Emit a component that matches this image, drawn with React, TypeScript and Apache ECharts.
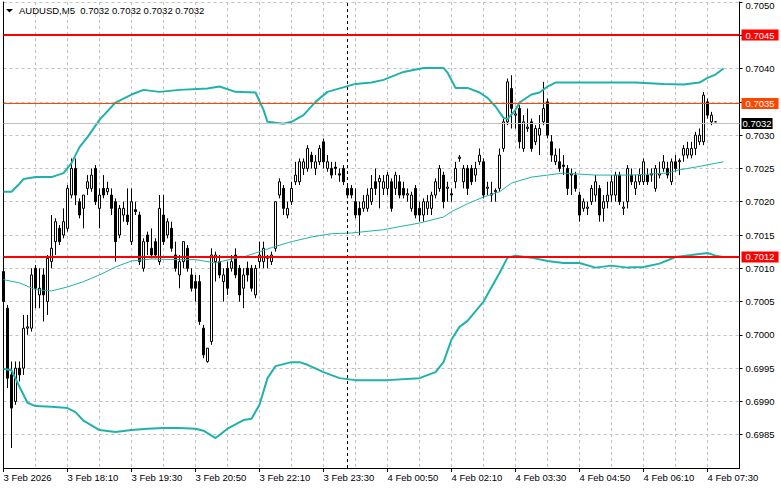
import React, { useEffect, useRef } from "react";
import * as echarts from "echarts";

const symbolName = "AUDUSD,M5";
const BAR_SLOTS = 185;
const START_MIN = 16 * 60 + 50;

const tickLabels = [
  "3 Feb 2026", "3 Feb 18:10", "3 Feb 19:30", "3 Feb 20:50", "3 Feb 22:10", "3 Feb 23:30",
  "4 Feb 00:50", "4 Feb 02:10", "4 Feb 03:30", "4 Feb 04:50", "4 Feb 06:10", "4 Feb 07:30",
];

const opens = [
  0.70095, 0.7004, 0.6994, 0.699, 0.6995, 0.6995, 0.7001, 0.7001, 0.701, 0.7006,
  0.7009, 0.7005, 0.7011, 0.7014, 0.7016, 0.7015, 0.7016, 0.7021, 0.7025, 0.702,
  0.7019, 0.7022, 0.7022, 0.7025, 0.7019, 0.7022, 0.70215, 0.7021, 0.702, 0.7015,
  0.7018, 0.7018, 0.7014, 0.70188, 0.7018, 0.701, 0.7015, 0.7013, 0.7014, 0.7011,
  0.7018, 0.7015, 0.7016, 0.7012, 0.7009, 0.7011, 0.7013, 0.7009, 0.7008, 0.7008,
  0.7001, 0.6996, 0.6999, 0.7011, 0.7011, 0.7008, 0.701, 0.701, 0.7012, 0.701,
  0.7007, 0.701, 0.701, 0.7006, 0.7011, 0.7011, 0.70115, 0.7011, 0.7013, 0.7021,
  0.7022, 0.7018, 0.702, 0.7023, 0.7023, 0.7025, 0.7025, 0.7027, 0.7025, 0.7026,
  0.7029, 0.7025, 0.7025, 0.70252, 0.70242, 0.7025, 0.7022, 0.7022, 0.702, 0.7019,
  0.7019, 0.7019, 0.702, 0.7023, 0.7023, 0.7022, 0.7022, 0.7023, 0.7022, 0.7023,
  0.7022, 0.7021, 0.7019, 0.7022, 0.7019, 0.7018, 0.7019, 0.7019, 0.7021, 0.7022,
  0.7024, 0.7022, 0.70212, 0.7023, 0.70265, 0.7023, 0.7025, 0.7025, 0.7024, 0.7026,
  0.7026, 0.7022, 0.7021, 0.70215, 0.7022, 0.7028, 0.7032, 0.7037, 0.7033, 0.7034,
  0.7028, 0.7031, 0.7032, 0.7029, 0.703, 0.7032, 0.7035, 0.7029, 0.7026, 0.7026,
  0.70255, 0.7025, 0.7024, 0.7024, 0.7021, 0.7019, 0.7019, 0.702, 0.7021, 0.7022,
  0.7019, 0.702, 0.7021, 0.7021, 0.7024, 0.7019, 0.702, 0.7024, 0.7022, 0.7023,
  0.7023, 0.7024, 0.7024, 0.7022, 0.7024, 0.7025, 0.7025, 0.7023, 0.7026, 0.7026,
  0.7027, 0.7027, 0.7027, 0.7028, 0.7029, 0.7029, 0.7035, 0.7032, 0.7032,
];

const highs = [
  0.70105, 0.70045, 0.6996, 0.6996, 0.6996, 0.7003, 0.7003, 0.701, 0.70105, 0.701,
  0.701, 0.7012, 0.7018, 0.70175, 0.70165, 0.7019, 0.70225, 0.70265, 0.70265, 0.70205,
  0.7021, 0.7024, 0.7025, 0.70255, 0.7022, 0.7024, 0.7023, 0.7022, 0.70205, 0.70195,
  0.702, 0.7022, 0.7022, 0.702, 0.70185, 0.70145, 0.70155, 0.7016, 0.70145, 0.7021,
  0.7021, 0.70175, 0.7017, 0.7014, 0.7012, 0.7014, 0.70135, 0.701, 0.7009, 0.7009,
  0.70015, 0.6998, 0.7013, 0.70125, 0.7012, 0.701, 0.7011, 0.7012, 0.7013, 0.70105,
  0.701, 0.7011, 0.70105, 0.70105, 0.7014, 0.7014, 0.7012, 0.70125, 0.702, 0.70235,
  0.70225, 0.702, 0.7023, 0.7026, 0.70265, 0.70265, 0.70285, 0.70275, 0.7027, 0.70285,
  0.70295, 0.7027, 0.7026, 0.7026, 0.7025, 0.70255, 0.70225, 0.70225, 0.7022, 0.702,
  0.7021, 0.7022, 0.7024, 0.7025, 0.7024, 0.7024, 0.70245, 0.70235, 0.70245, 0.7024,
  0.7023, 0.7022, 0.70215, 0.70225, 0.702, 0.70205, 0.7021, 0.70215, 0.70235, 0.70255,
  0.70245, 0.7023, 0.7022, 0.7026, 0.7027, 0.70255, 0.70255, 0.70255, 0.7026, 0.7028,
  0.70265, 0.7023, 0.7023, 0.7022, 0.7028, 0.70325, 0.70385, 0.7039, 0.7034, 0.70345,
  0.7033, 0.7034, 0.70325, 0.70315, 0.7033, 0.7038, 0.70355, 0.703, 0.7028, 0.7028,
  0.7027, 0.70255, 0.7025, 0.70245, 0.70215, 0.70205, 0.702, 0.70225, 0.7024, 0.70225,
  0.7021, 0.7023, 0.7024, 0.70245, 0.70245, 0.702, 0.70255, 0.7025, 0.7024, 0.7025,
  0.70265, 0.7025, 0.7025, 0.70255, 0.7026, 0.7027, 0.7026, 0.70265, 0.7027, 0.70265,
  0.70285, 0.7029, 0.7029, 0.70305, 0.7031, 0.70365, 0.70355, 0.70335, 0.7032,
];

const lows = [
  0.70045, 0.6992, 0.6983, 0.69895, 0.6993, 0.6994, 0.7, 0.70005, 0.7004, 0.7004,
  0.7002, 0.7003, 0.701, 0.7012, 0.70135, 0.70145, 0.70155, 0.70205, 0.70195, 0.70175,
  0.7016, 0.7021, 0.70215, 0.70195, 0.7016, 0.70205, 0.7021, 0.7018, 0.7011, 0.70145,
  0.7017, 0.70165, 0.70135, 0.7018, 0.70105, 0.70095, 0.7012, 0.70115, 0.70115, 0.70105,
  0.70135, 0.70145, 0.70125, 0.70095, 0.7007, 0.701, 0.70095, 0.70065, 0.7005, 0.70015,
  0.69965, 0.69958, 0.69985, 0.7008, 0.70085, 0.7005, 0.7006, 0.70095, 0.70085, 0.7005,
  0.7004, 0.7008, 0.70065, 0.70055, 0.701, 0.701, 0.701, 0.70105, 0.70125, 0.70205,
  0.7018, 0.70175, 0.70195, 0.70225, 0.70225, 0.7024, 0.70245, 0.7025, 0.7024, 0.70255,
  0.7025, 0.70245, 0.70235, 0.7024, 0.7023, 0.70225, 0.70205, 0.70205, 0.70175, 0.7015,
  0.70185, 0.70185, 0.70195, 0.7021, 0.7019, 0.7021, 0.7021, 0.70185, 0.7021, 0.70205,
  0.70205, 0.702, 0.70185, 0.70175, 0.7017, 0.7017, 0.7018, 0.7018, 0.70205, 0.70215,
  0.7019, 0.702, 0.702, 0.7022, 0.7026, 0.7022, 0.7021, 0.70225, 0.7023, 0.70255,
  0.70205, 0.7021, 0.702, 0.702, 0.70215, 0.70275, 0.70315, 0.7031, 0.7031, 0.7028,
  0.70275, 0.70305, 0.70275, 0.70285, 0.7027, 0.70315, 0.70295, 0.7026, 0.70255, 0.70245,
  0.7024, 0.7021, 0.7021, 0.70215, 0.7017, 0.70185, 0.7018, 0.70195, 0.702, 0.7017,
  0.7017, 0.7019, 0.702, 0.702, 0.70195, 0.7018, 0.7019, 0.70225, 0.7021, 0.70225,
  0.70225, 0.70225, 0.7023, 0.70215, 0.70235, 0.70245, 0.70235, 0.70225, 0.70245, 0.7024,
  0.7026, 0.70265, 0.70265, 0.7027, 0.70285, 0.70285, 0.70325, 0.70315, 0.7032,
];

const closes = [
  0.7005, 0.69935, 0.6989, 0.6995, 0.6994, 0.7001, 0.70012, 0.7009, 0.7007, 0.7007,
  0.7006, 0.70115, 0.7013, 0.7017, 0.7014, 0.7017, 0.7022, 0.7025, 0.7021, 0.7018,
  0.7021, 0.7023, 0.7024, 0.702, 0.7021, 0.7021, 0.7022, 0.7019, 0.7014, 0.7019,
  0.7019, 0.7017, 0.702, 0.70185, 0.7011, 0.7014, 0.7014, 0.7012, 0.7012, 0.7019,
  0.7014, 0.7017, 0.7013, 0.701, 0.7011, 0.7014, 0.701, 0.7007, 0.7007, 0.7002,
  0.6997, 0.6998, 0.7012, 0.7012, 0.7009, 0.7009, 0.7007, 0.7011, 0.7009, 0.7006,
  0.7009, 0.7009, 0.7007, 0.701, 0.7012, 0.7013, 0.70118, 0.7012, 0.702, 0.7023,
  0.7019, 0.7019, 0.7022, 0.7024, 0.7026, 0.7026, 0.7028, 0.7026, 0.7026, 0.7028,
  0.7026, 0.7026, 0.7024, 0.7025, 0.7024, 0.7023, 0.7021, 0.7021, 0.7018, 0.7018,
  0.702, 0.7021, 0.7022, 0.7022, 0.70235, 0.7023, 0.7024, 0.7019, 0.7024, 0.7021,
  0.7021, 0.70212, 0.7021, 0.7018, 0.7018, 0.702, 0.702, 0.7021, 0.7023, 0.7025,
  0.702, 0.70222, 0.7021, 0.7025, 0.70267, 0.7025, 0.7022, 0.7023, 0.7025, 0.7027,
  0.7021, 0.70222, 0.70212, 0.70217, 0.7027, 0.7032, 0.7038, 0.7034, 0.70332, 0.7029,
  0.7032, 0.70312, 0.7028, 0.7031, 0.7031, 0.7034, 0.703, 0.7027, 0.7027, 0.7025,
  0.70253, 0.7022, 0.70242, 0.7022, 0.7018, 0.702, 0.70192, 0.7022, 0.7023, 0.7018,
  0.702, 0.7021, 0.7023, 0.7024, 0.702, 0.70192, 0.7025, 0.7023, 0.7023, 0.7024,
  0.7026, 0.7023, 0.70242, 0.7025, 0.70242, 0.7026, 0.7024, 0.7026, 0.7025, 0.70262,
  0.7028, 0.7028, 0.7028, 0.703, 0.703, 0.7036, 0.7033, 0.7033, 0.7032,
];

// Bollinger bands: [bar index, price]
const upperBand = [
  [0, 0.70215], [2, 0.70215], [4, 0.70227], [5, 0.70234], [8, 0.70237], [12, 0.70237],
  [15, 0.70243], [17, 0.70258], [19, 0.70282], [21, 0.70297], [24, 0.70323], [28, 0.70349],
  [32, 0.70361], [35, 0.70368], [39, 0.70365], [44, 0.70368], [51, 0.7037], [54, 0.70373],
  [58, 0.70365], [63, 0.70364], [65, 0.70338], [66, 0.7032], [70, 0.70317], [72, 0.7032],
  [75, 0.7033], [78, 0.7035], [81, 0.70365], [88, 0.70377], [92, 0.70379], [95, 0.70383],
  [100, 0.70395], [105, 0.70401], [110, 0.70401], [111, 0.70394], [113, 0.70371], [116, 0.70371],
  [119, 0.70364], [121, 0.70356], [123, 0.70343], [125, 0.70326], [126, 0.70324], [128, 0.70338],
  [129, 0.70349], [132, 0.70361], [134, 0.70364], [136, 0.70373], [138, 0.70379], [150, 0.70379],
  [158, 0.70379], [165, 0.70377], [170, 0.70376], [174, 0.70379], [176, 0.70386], [178, 0.70391],
  [180, 0.704],
];

const middleBand = [
  [0, 0.70083], [4, 0.70078], [8, 0.70068], [12, 0.70066], [16, 0.70072], [20, 0.7008],
  [24, 0.7009], [28, 0.70102], [32, 0.70111], [37, 0.70114], [44, 0.70113], [48, 0.70113],
  [53, 0.70108], [57, 0.70114], [60, 0.70117], [63, 0.70123], [67, 0.70131], [72, 0.7014],
  [77, 0.70147], [82, 0.70152], [87, 0.70153], [95, 0.70158], [104, 0.70168], [110, 0.70177],
  [112, 0.70185], [116, 0.70197], [120, 0.70207], [124, 0.70215], [127, 0.70228], [132, 0.70237],
  [140, 0.70243], [148, 0.7024], [157, 0.7024], [166, 0.70243], [169, 0.70248], [173, 0.70252],
  [180, 0.7026],
];

const lowerBand = [
  [0, 0.69949], [2, 0.69947], [4, 0.69922], [6, 0.69898], [8, 0.69893], [12, 0.69892],
  [16, 0.6989], [18, 0.69884], [20, 0.69871], [24, 0.69857], [28, 0.69854], [32, 0.69857],
  [36, 0.69859], [40, 0.6986], [44, 0.6986], [48, 0.69859], [50, 0.69856], [53, 0.69845],
  [56, 0.69859], [60, 0.69872], [62, 0.69874], [64, 0.69895], [66, 0.69935], [68, 0.69953],
  [72, 0.69959], [74, 0.69959], [76, 0.69955], [80, 0.69944], [84, 0.69935], [88, 0.69932],
  [96, 0.69932], [104, 0.69935], [108, 0.69944], [110, 0.69959], [112, 0.69993], [114, 0.70012],
  [116, 0.70021], [120, 0.7005], [124, 0.70093], [126, 0.70116], [128, 0.70119], [132, 0.70116],
  [136, 0.70111], [140, 0.70108], [144, 0.70108], [148, 0.70101], [152, 0.70104], [156, 0.70101],
  [160, 0.70102], [164, 0.70107], [168, 0.70117], [172, 0.7012], [176, 0.70123], [178, 0.70119],
  [180, 0.70117],
];

// horizontal level lines (price values)
const upperLevel = 0.704504;
const orangeLevel = 0.703475;
const lastPrice = 0.703175;
const lowerLevel = 0.70117;
const separatorBar = 86;

const FONT = '"Liberation Sans", Arial, sans-serif';
const FS = 9.5;

function pad(n: number) {
  return n < 10 ? "0" + n : "" + n;
}
const categories = Array.from({ length: BAR_SLOTS }, (_, i) => {
  const m = START_MIN + 5 * i;
  const day = 3 + Math.floor(m / 1440);
  const mm = m % 1440;
  return `${day} Feb ${pad(Math.floor(mm / 60))}:${pad(mm % 60)}`;
});

export default function App() {
  const ref = useRef<HTMLDivElement>(null);
  useEffect(() => {
    if (!ref.current) return;
    const chart = echarts.init(ref.current, undefined, { renderer: "svg" });
    const n = closes.length;
    const titleText = `${symbolName}  ${opens[n - 1].toFixed(4)} ${highs[n - 1].toFixed(4)} ${lows[n - 1].toFixed(4)} ${closes[n - 1].toFixed(4)}`;
    const candles = opens.map((o, i) => [o, closes[i], lows[i], highs[i]]);
    const levelLabel = (bg: string, padH: number) => ({
      show: true,
      position: "end",
      distance: 2,
      formatter: (p: any) => Number(p.value).toFixed(4),
      color: "#ffffff",
      backgroundColor: bg,
      padding: [1, padH, 0, padH],
      fontSize: FS,
      lineHeight: 10,
      fontFamily: FONT,
    });
    const yMin = 0.698;
    const yMax = 0.705;
    const option: any = {
      animation: false,
      backgroundColor: "#ffffff",
      textStyle: { fontFamily: FONT },
      grid: { left: 3.5, top: 2, width: 736, height: 466, show: false },
      xAxis: {
        type: "category",
        data: categories,
        boundaryGap: false,
        axisLine: { show: true, onZero: false, lineStyle: { color: "#000000", width: 1 } },
        axisTick: { show: true, interval: 15, length: 4, lineStyle: { color: "#000000" } },
        axisLabel: {
          interval: 15,
          align: "left",
          margin: 4,
          color: "#000000",
          fontSize: FS,
          fontFamily: FONT,
          formatter: (_v: string, idx: number) => tickLabels[idx / 16] ?? "",
        },
        splitLine: { show: true, interval: 7, lineStyle: { color: "#c0c0c0", type: [3, 3], width: 1 } },
      },
      yAxis: [
        {
          type: "value",
          position: "right",
          min: yMin,
          max: yMax,
          interval: 0.0005,
          axisLine: { show: true, lineStyle: { color: "#000000" } },
          axisTick: { show: true, length: 3, lineStyle: { color: "#000000" } },
          axisLabel: {
            showMinLabel: false,
            margin: 6,
            color: "#000000",
            fontSize: FS,
            fontFamily: FONT,
            formatter: (v: number) => (Math.abs(v - yMax) < 1e-9 ? "{top|" + v.toFixed(4) + "}" : v.toFixed(4)),
            rich: { top: { padding: [6, 0, 0, 0], fontSize: FS, fontFamily: FONT, color: "#000000" } },
          },
          splitLine: { show: true, lineStyle: { color: "#c0c0c0", type: [3, 3], width: 1 } },
        },
        {
          type: "value",
          position: "left",
          min: yMin,
          max: yMax,
          axisLine: { show: true, lineStyle: { color: "#000000" } },
          axisTick: { show: false },
          axisLabel: { show: false },
          splitLine: { show: false },
        },
      ],
      graphic: [
        { type: "polygon", shape: { points: [[6, 9], [13, 9], [9.5, 12.5]] }, style: { fill: "#000000" } },
        {
          type: "text",
          left: 19,
          top: 5,
          style: { text: titleText, fill: "#000000", fontSize: FS, fontFamily: FONT },
        },
      ],
      series: [
        {
          type: "candlestick",
          data: candles,
          barWidth: 2,
          clip: false,
          z: 3,
          itemStyle: {
            color: "#ffffff",
            color0: "#000000",
            borderColor: "#000000",
            borderColor0: "#000000",
            borderWidth: 1,
          },
        },
        {
          type: "line",
          data: upperBand,
          symbol: "none",
          z: 4,
          lineStyle: { color: "#20b2aa", width: 2 },
        },
        {
          type: "line",
          data: lowerBand,
          symbol: "none",
          z: 4,
          lineStyle: { color: "#20b2aa", width: 2 },
        },
        {
          type: "line",
          data: middleBand,
          symbol: "none",
          z: 4,
          lineStyle: { color: "#20b2aa", width: 1 },
          markLine: {
            silent: true,
            symbol: ["none", "none"],
            precision: 6,
            z: 5,
            data: [
              { xAxis: categories[separatorBar], lineStyle: { color: "#000000", type: [3, 3], width: 1 }, label: { show: false } },
              { yAxis: lastPrice, lineStyle: { color: "#c0c0c0", type: "solid", width: 1 }, label: levelLabel("#000000", 1) },
              { yAxis: orangeLevel, lineStyle: { color: "#ff4500", type: "solid", width: 1 }, label: levelLabel("#ff4500", 4) },
              { yAxis: upperLevel, lineStyle: { color: "#ff0000", type: "solid", width: 2 }, label: levelLabel("#ff0000", 4) },
              { yAxis: lowerLevel, lineStyle: { color: "#ff0000", type: "solid", width: 2 }, label: levelLabel("#ff0000", 4) },
            ],
          },
        },
      ],
    };
    chart.setOption(option);
    return () => chart.dispose();
  }, []);
  return (
    <div
      ref={ref}
      style={{ position: "fixed", left: 0, top: 0, width: 781, height: 489, background: "#ffffff" }}
    />
  );
}
